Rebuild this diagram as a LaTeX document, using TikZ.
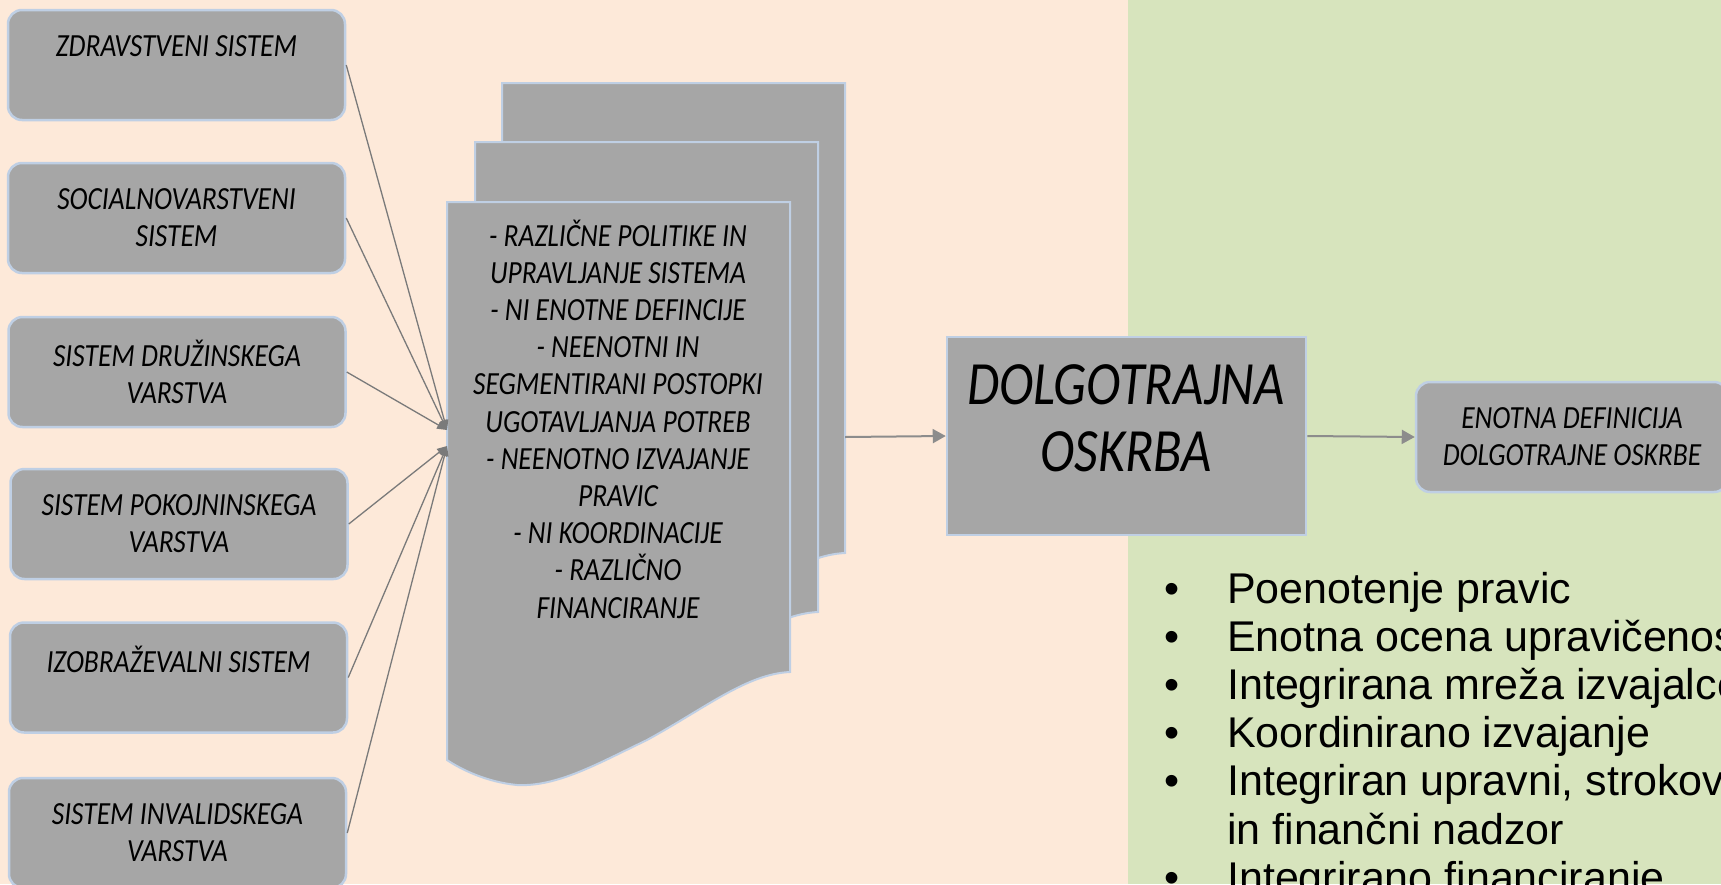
\documentclass[tikz,border=0pt]{standalone}
\usepackage{fontspec}
\setmainfont{Liberation Sans}
\newfontfamily\calfont[FakeStretch=0.85]{Carlito}
\newfontfamily\arialfont{Liberation Sans}
\usetikzlibrary{arrows.meta}
\definecolor{peach}{HTML}{FDE9D9}
\definecolor{olive}{HTML}{D7E4BD}
\definecolor{boxgray}{HTML}{A6A6A6}
\definecolor{edgeblue}{HTML}{BFCFE4}
\definecolor{linegray}{HTML}{7A7A7A}
\definecolor{arrowgray}{HTML}{8C8C8C}
\begin{document}
\begin{tikzpicture}[x=1pt,y=-1pt,
  sysbox/.style={draw=edgeblue, line width=2.5pt, fill=boxgray, rounded corners=14pt,
    minimum width=337pt, minimum height=110pt, inner sep=0pt, align=center,
    font=\calfont\itshape\fontsize{32.3}{37}\selectfont},
  bigbox/.style={draw=edgeblue, line width=2.5pt, fill=boxgray, inner sep=0pt,
    minimum width=359pt, minimum height=198pt},
  bigtext/.style={inner sep=0pt, align=center, font=\calfont\itshape\fontsize{61.5}{67}\selectfont},
  doctext/.style={inner sep=0pt, align=center, font=\calfont\itshape\fontsize{32.3}{37.2}\selectfont},
  docsheet/.style={draw=edgeblue, line width=2pt, fill=boxgray},
  feed/.style={draw=linegray, line width=1.3pt, -{Triangle[length=10pt,width=8pt]}},
  flow/.style={draw=arrowgray, line width=2pt, -{Triangle[length=13pt,width=14pt]}},
  bullets/.style={inner sep=0pt, anchor=base west, font=\arialfont\fontsize{43}{48.2}\selectfont}
]
\useasboundingbox (0,0) rectangle (1721,884);
\clip (0,0) rectangle (1721,884);
% backgrounds
\fill[peach] (0,0) rectangle (1128,884);
\fill[olive] (1128,0) rectangle (1721,884);

% stacked document sheets
\foreach \dx/\dy in {502/83, 475/142, 447/202}{
  \begin{scope}[shift={(\dx,\dy)}]
    \path[docsheet] (0,0) -- (343,0) -- (343,470)
      .. controls (300,472) and (260,505) .. (200,538)
      .. controls (150,562) and (110,585) .. (70,583)
      .. controls (40,580) and (15,568) .. (0,558) -- cycle;
  \end{scope}
}
\node[doctext] (problems) at (618,419) {- RAZLIČNE POLITIKE IN\\UPRAVLJANJE SISTEMA\\- NI ENOTNE DEFINCIJE\\- NEENOTNI IN\\SEGMENTIRANI POSTOPKI\\UGOTAVLJANJA POTREB\\- NEENOTNO IZVAJANJE\\PRAVIC\\- NI KOORDINACIJE\\- RAZLIČNO\\FINANCIRANJE};
\coordinate (tipA) at (447,430);
\coordinate (tipB) at (447,446);
\coordinate (docR) at (845,437);

% system boxes
\node[sysbox] (s1) at (176.5,65)  {ZDRAVSTVENI SISTEM\\\mbox{}};
\node[sysbox] (s2) at (176.5,218) {SOCIALNOVARSTVENI\\SISTEM};
\node[sysbox] (s3) at (177,372)   {SISTEM DRUŽINSKEGA\\VARSTVA};
\node[sysbox] (s4) at (179,524)   {SISTEM POKOJNINSKEGA\\VARSTVA};
\node[sysbox] (s5) at (178.5,677.5) {IZOBRAŽEVALNI SISTEM\\\mbox{}};
\node[sysbox] (s6) at (177.5,833) {SISTEM INVALIDSKEGA\\VARSTVA};

\draw[feed] (s1.east) -- (tipA);
\draw[feed] (s2.east) -- (tipA);
\draw[feed] (s3.east) -- (tipA);
\draw[feed] (s4.east) -- (tipB);
\draw[feed] (s5.east) -- (tipB);
\draw[feed] (s6.east) -- (tipB);

% main box
\node[bigbox] (dolgo) at (1126.5,436) {};
\node[bigtext] (dolgoT) at (1126,418.5) {DOLGOTRAJNA\\OSKRBA};
\node[sysbox, minimum width=312pt] (enotna) at (1572,437) {ENOTNA DEFINICIJA\\DOLGOTRAJNE OSKRBE};

\draw[flow] (docR) -- (dolgo.west);
\draw[flow] (dolgo.east) -- (enotna.west);

% bullet list
\node[bullets] (goals) at (1164,603) {\begin{tabular}[t]{@{}p{63pt}@{}l@{}}
•& Poenotenje pravic\\
•& Enotna ocena upravičenosti\\
•& Integrirana mreža izvajalcev\\
•& Koordinirano izvajanje\\
•& Integriran upravni, strokovni\\
 & in finančni nadzor\\
•& Integrirano financiranje
\end{tabular}};
\end{tikzpicture}
\end{document}
